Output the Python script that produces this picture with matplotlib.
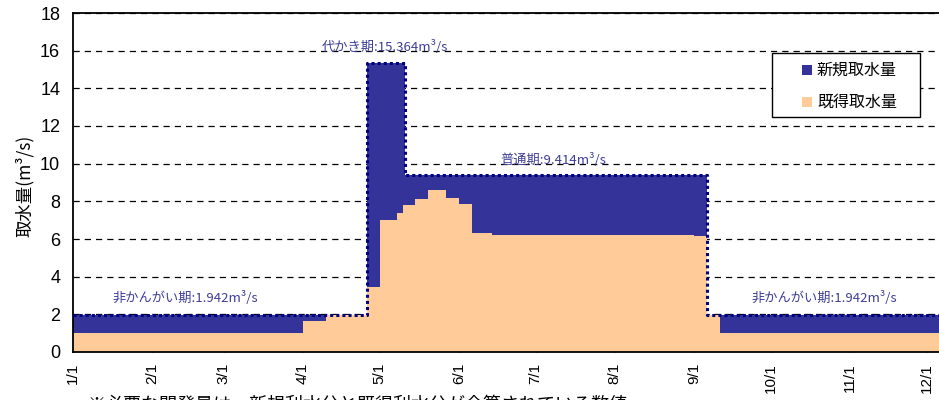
import matplotlib
matplotlib.use("Agg")
import matplotlib.pyplot as plt
from matplotlib.patches import Rectangle

# Day of year (0 = 1/1) at which each intake segment begins
seg_start = [0, 90, 99, 115, 120, 127, 129, 130, 134, 139, 146, 151, 156, 164, 243, 248, 253]
year_end = 365

# Existing intake (m3/s) for each segment
existing = [1.00, 1.63, 1.942, 3.45, 7.00, 7.40, 7.81, 7.81, 8.13, 8.62, 8.19, 7.86,
            6.30, 6.20, 6.14, 1.942, 1.00]
# Total required intake (m3/s) for each segment
total = [1.942, 1.942, 1.942, 15.364, 15.364, 15.364, 15.364, 9.414, 9.414, 9.414,
         9.414, 9.414, 9.414, 9.414, 9.414, 1.942, 1.942]

month_days = [0, 31, 59, 90, 120, 151, 181, 212, 243, 273, 304, 334]
month_labels = ["1/1", "2/1", "3/1", "4/1", "5/1", "6/1", "7/1", "8/1",
                "9/1", "10/1", "11/1", "12/1"]

period_labels = ["代かき期:15.364m³/s", "普通期:9.414m³/s",
                 "非かんがい期:1.942m³/s", "非かんがい期:1.942m³/s"]
period_pos = [(122, 16.2), (188, 10.2), (44, 2.87), (294, 2.87)]

series_names = ["新規取水量", "既得取水量"]

c_new = "#333399"
c_old = "#FFCC99"
c_env = "#000080"
c_txt = "#3D3D99"
jp = ["Noto Sans CJK JP", "DejaVu Sans"]
num = ["Liberation Sans", "DejaVu Sans"]

x = seg_start + [year_end]
old_v = existing + [existing[-1]]
tot_v = total + [total[-1]]

W, H = 939, 400
fig = plt.figure(figsize=(W / 100, H / 100), dpi=100)
ax = fig.add_axes([0.0774, 0.12, 0.994, 0.8475])

ax.fill_between(x, 0, old_v, step="post", color=c_old, lw=0, zorder=1)
ax.fill_between(x, old_v, tot_v, step="post", color=c_new, lw=0, zorder=1)
ax.step(x, tot_v, where="post", color=c_env, lw=2.2, ls=(0, (1, 1)), zorder=3)

ax.set_xlim(0, year_end)
ax.set_ylim(0, 18)
ax.set_yticks(range(0, 19, 2))
ax.set_xticks(month_days)
ax.set_xticklabels(month_labels, rotation=90, fontsize=11, family=num)
for lbl in ax.get_yticklabels():
    lbl.set_family(num)
    lbl.set_fontsize(13)
ax.tick_params(axis="y", length=0, pad=9)
ax.tick_params(axis="x", direction="in", length=3, pad=8, width=1)

ax.set_axisbelow(True)
ax.yaxis.grid(True, color="black", lw=0.9, ls=(0, (5, 4)))
for s in ax.spines.values():
    s.set_linewidth(1.3)
    s.set_color("black")

for txt, (px, py) in zip(period_labels, period_pos):
    ax.text(px, py, txt, ha="center", va="center", fontsize=9.5,
            color=c_txt, family=jp, zorder=4)

ax.set_ylabel("取水量(m³/s)", family=jp, fontsize=12.5)
ax.yaxis.set_label_coords(-0.042, 0.49)

# Legend box with two colour keys
fig.patches.append(Rectangle((772 / W, 1 - 117 / H), 148 / W, 64 / H,
                             transform=fig.transFigure, facecolor="white",
                             edgecolor="black", lw=1.0, zorder=5))
for i, (name, col) in enumerate(zip(series_names, [c_new, c_old])):
    yc = 1 - (70 + 32 * i) / H
    fig.patches.append(Rectangle((802 / W, yc - 5 / H), 10 / W, 10 / H,
                                 transform=fig.transFigure, facecolor=col,
                                 edgecolor="none", zorder=6))
    fig.text(817 / W, yc, name, ha="left", va="center", fontsize=11.5,
             family=jp, zorder=7)

fig.text(88 / W, 1 - 396 / H,
         "※必要な開発量は、新規利水分と既得利水分が合算されている数値",
         ha="left", va="top", fontsize=13, family=jp)

fig.savefig("out.png", dpi=100)
